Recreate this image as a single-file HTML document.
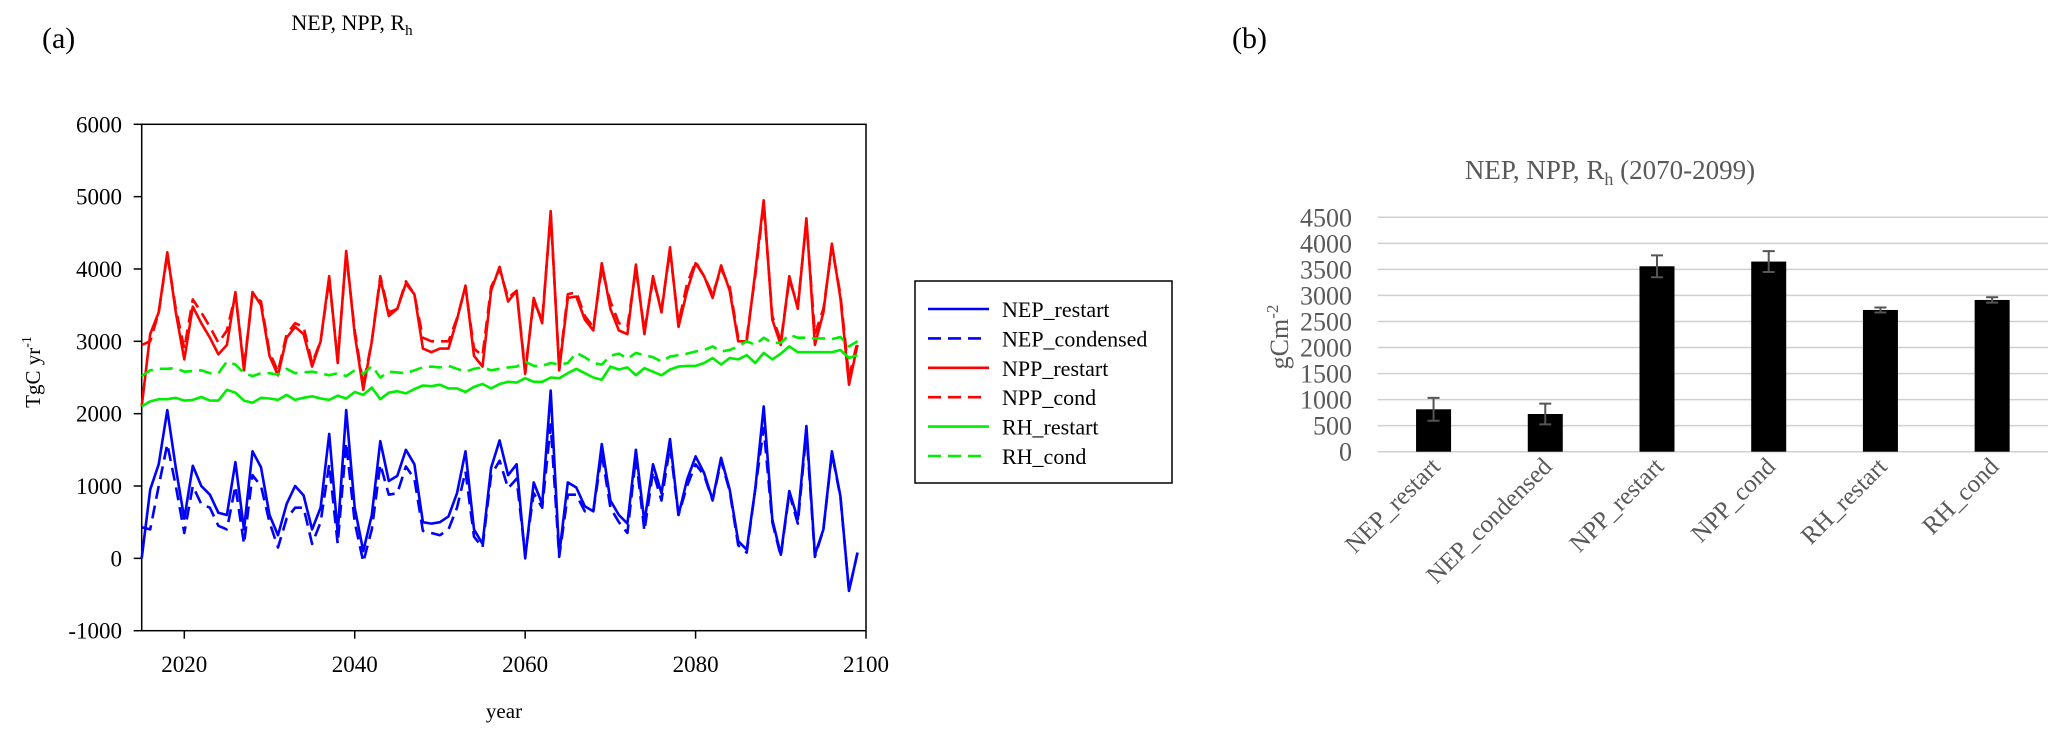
<!DOCTYPE html>
<html><head><meta charset="utf-8"><style>
html,body{margin:0;padding:0;background:#fff;}
svg{display:block;font-family:"Liberation Serif",serif;}
</style></head><body>
<svg id="fig" width="2067" height="743" viewBox="0 0 2067 743" xmlns="http://www.w3.org/2000/svg">
<text x="42" y="48" font-size="30">(a)</text>
<text x="352" y="30" font-size="22" text-anchor="middle">NEP, NPP, R<tspan font-size="15" dy="5">h</tspan></text>
<text x="1232" y="48" font-size="30">(b)</text>
<g id="left"></g>
<g id="legend"></g>
<g id="right"></g>
</svg>
<script>
const years = [];
for (let y = 2015; y <= 2099; y++) years.push(y);
const nepRestart = [0,950,1300,2050,1250,550,1280,1000,880,630,600,1330,400,1480,1260,600,320,750,1000,870,400,700,1720,350,2050,700,100,600,1620,1070,1140,1500,1300,500,480,500,580,900,1480,400,200,1250,1630,1150,1300,0,1050,750,2320,50,1050,980,720,650,1580,800,600,480,1500,500,1300,900,1650,600,1090,1410,1180,810,1390,950,240,120,950,2100,540,50,930,540,1830,50,400,1480,860,-450,80];
const nepCondensed = [430,400,1000,1580,1000,350,1000,750,700,450,400,1000,200,1150,1000,500,150,550,700,700,200,500,1300,200,1600,500,-50,400,1300,880,900,1270,1100,380,350,320,400,700,1200,300,150,1150,1350,970,1100,50,900,700,1850,20,880,880,650,650,1450,700,500,350,1400,380,1200,800,1550,600,1000,1300,1150,800,1350,930,180,80,950,1800,500,30,900,480,1750,20,400,1450,850,-450,80];
const nppRestart = [2100,3100,3400,4230,3400,2750,3480,3250,3050,2820,2950,3680,2600,3680,3500,2800,2530,3050,3200,3100,2650,3000,3900,2700,4250,3100,2330,3000,3870,3350,3450,3800,3650,2900,2850,2900,2900,3300,3770,2800,2650,3700,4030,3550,3700,2550,3600,3250,4800,2600,3600,3620,3300,3150,4080,3450,3150,3100,4060,3100,3900,3400,4300,3200,3700,4080,3900,3600,4050,3700,3000,3000,3950,4950,3300,2950,3900,3450,4700,2950,3400,4350,3600,2400,2950];
const nppCond = [2950,3000,3400,4200,3450,2900,3580,3400,3200,2980,3150,3650,2650,3650,3550,2850,2580,3100,3250,3200,2700,3000,3850,2750,4200,3150,2400,3000,3900,3400,3450,3830,3650,3050,3000,3000,3000,3320,3750,2900,2800,3750,4000,3600,3700,2600,3550,3300,4750,2650,3650,3680,3350,3200,4000,3550,3250,3200,4000,3150,3850,3450,4250,3250,3800,4100,3900,3650,4000,3750,3050,3050,3900,4900,3350,3000,3850,3500,4650,3100,3450,4300,3650,2500,3000];
const rhRestart = [2100,2170,2200,2200,2220,2180,2190,2230,2180,2180,2330,2290,2180,2150,2220,2210,2190,2260,2190,2220,2240,2210,2190,2250,2210,2300,2260,2360,2200,2290,2310,2280,2340,2390,2380,2400,2350,2350,2300,2370,2410,2350,2410,2440,2430,2490,2440,2440,2500,2490,2560,2620,2560,2500,2470,2650,2610,2640,2530,2630,2580,2530,2610,2650,2660,2660,2700,2770,2680,2770,2750,2810,2700,2840,2750,2830,2930,2850,2850,2850,2850,2850,2880,2770,2810];
const rhCond = [2520,2600,2620,2620,2630,2580,2590,2600,2560,2560,2720,2680,2560,2520,2560,2560,2540,2620,2560,2570,2580,2560,2530,2560,2520,2600,2550,2660,2500,2580,2570,2560,2600,2640,2650,2640,2660,2620,2580,2620,2640,2600,2620,2640,2650,2720,2660,2660,2700,2680,2700,2840,2780,2700,2680,2800,2830,2760,2840,2810,2780,2720,2790,2810,2830,2860,2880,2930,2860,2880,2930,3000,2950,3050,2980,2980,3090,3050,3050,3040,3040,3030,3060,2930,3000];
const yTicks = [-1000,0,1000,2000,3000,4000,5000,6000];
const xTicks = [2020,2040,2060,2080,2100];
const seriesNames = ["NEP_restart","NEP_condensed","NPP_restart","NPP_cond","RH_restart","RH_cond"];
const seriesColors = ["#0000ff","#0000ff","#ff0000","#ff0000","#00ee00","#00ee00"];
const seriesDashed = [false,true,false,true,false,true];
const barCats = ["NEP_restart","NEP_condensed","NPP_restart","NPP_cond","RH_restart","RH_cond"];
const barVals = [814,724,3560,3650,2721,2913];
const barErr = [220,200,210,200,48,52];
const barTicks = [0,500,1000,1500,2000,2500,3000,3500,4000,4500];

const NS = "http://www.w3.org/2000/svg";
function mk(tag, attrs, parent, text) {
  const e = document.createElementNS(NS, tag);
  for (const k in attrs) e.setAttribute(k, attrs[k]);
  if (text !== undefined) e.textContent = text;
  parent.appendChild(e);
  return e;
}
// left chart
const L = document.getElementById('left');
const x0 = 141.7, x1 = 866, yTop = 124.3, yBot = 630.7;
const xs = v => x0 + (v - 2015) / 85 * (x1 - x0);
const ys = v => yBot - (v + 1000) / 7000 * (yBot - yTop);
const frame = mk('rect', {x:x0, y:yTop, width:x1-x0, height:yBot-yTop, fill:'none', stroke:'#000', 'stroke-width':1.5}, L);


yTicks.forEach(t => {
  const ln = mk('line', {x1:x0-8, x2:x0, y1:ys(t), y2:ys(t), stroke:'#000', 'stroke-width':1.5}, L);
  
  
  const tx = mk('text', {x:122, y:ys(t)+8, 'font-size':23, 'text-anchor':'end'}, L, String(t));
  
  
});
xTicks.forEach(t => {
  const ln = mk('line', {x1:xs(t), x2:xs(t), y1:yBot, y2:yBot+8, stroke:'#000', 'stroke-width':1.5}, L);
  
  
  const tx = mk('text', {x:xs(t), y:672, 'font-size':23, 'text-anchor':'middle'}, L, String(t));
  
  
});
const xt = mk('text', {x:504, y:718, 'font-size':21, 'text-anchor':'middle'}, L, 'year');


const yt = mk('text', {transform:'translate(40,372) rotate(-90)', 'font-size':21, 'text-anchor':'middle'}, L);


yt.innerHTML = 'TgC yr<tspan font-size="14" dy="-9">-1</tspan>';
const allSeries = [nepRestart, nepCondensed, nppRestart, nppCond, rhRestart, rhCond];
allSeries.forEach((arr, i) => {
  const d = arr.map((v, j) => (j ? 'L' : 'M') + xs(years[j]).toFixed(1) + ' ' + ys(v).toFixed(1)).join(' ');
  const p = mk('path', {d:d, fill:'none', stroke:seriesColors[i], 'stroke-width':2.6, 'stroke-linejoin':'round'}, L);
  if (seriesDashed[i]) p.setAttribute('stroke-dasharray', '13 7');
  
  
});
// legend
const G = document.getElementById('legend');
const box = mk('rect', {x:915, y:281, width:257, height:202, fill:'#fff', stroke:'#000', 'stroke-width':1.5}, G);


seriesNames.forEach((n, i) => {
  const yy = 309 + i * 29.4;
  const ln = mk('line', {x1:928, x2:seriesDashed[i] ? 983 : 989, y1:yy, y2:yy, stroke:seriesColors[i], 'stroke-width':2.6}, G);
  if (seriesDashed[i]) ln.setAttribute('stroke-dasharray', '13 7');
  
  
  const tx = mk('text', {x:1002, y:yy+8, 'font-size':22}, G, n);
  
  
});
// bar chart
const R = document.getElementById('right');
const bx0 = 1377.7, bx1 = 2048, by0 = 451.7, byMax = 217.3;
const bys = v => by0 - v / 4500 * (by0 - byMax);
const cw = (bx1 - bx0) / barCats.length;
const tt = mk('text', {x:1610, y:179, 'font-size':27, fill:'#595959', 'text-anchor':'middle'}, R);


tt.innerHTML = 'NEP, NPP, R<tspan font-size="18" dy="6">h</tspan><tspan dy="-6"> (2070-2099)</tspan>';
barTicks.forEach(t => {
  const ln = mk('line', {x1:bx0, x2:bx1, y1:bys(t), y2:bys(t), stroke:'#d0d0d0', 'stroke-width':1.5}, R);
  
  
  const tx = mk('text', {x:1352, y:bys(t)+9, 'font-size':26, fill:'#595959', 'text-anchor':'end'}, R, String(t));
  
  
});
const byt = mk('text', {transform:'translate(1288,337) rotate(-90)', 'font-size':26, fill:'#595959', 'text-anchor':'middle'}, R);


byt.innerHTML = 'gCm<tspan font-size="17" dy="-10">-2</tspan>';
barCats.forEach((c, i) => {
  const cx = bx0 + cw * (i + 0.5);
  const r = mk('rect', {x:cx-17.5, y:bys(barVals[i]), width:35, height:by0-bys(barVals[i]), fill:'#000'}, R);
  
  
  const hi = bys(barVals[i] + barErr[i]), lo = bys(barVals[i] - barErr[i]);
  const e = mk('path', {d:`M${cx} ${hi} L${cx} ${lo} M${cx-6} ${hi} L${cx+6} ${hi} M${cx-6} ${lo} L${cx+6} ${lo}`, stroke:'#555', 'stroke-width':2, fill:'none'}, R);
  
  
  const tx = mk('text', {transform:`translate(${cx+8},468) rotate(-45)`, 'font-size':25, fill:'#595959', 'text-anchor':'end'}, R, c);
  
  
});
</script>
</body></html>
